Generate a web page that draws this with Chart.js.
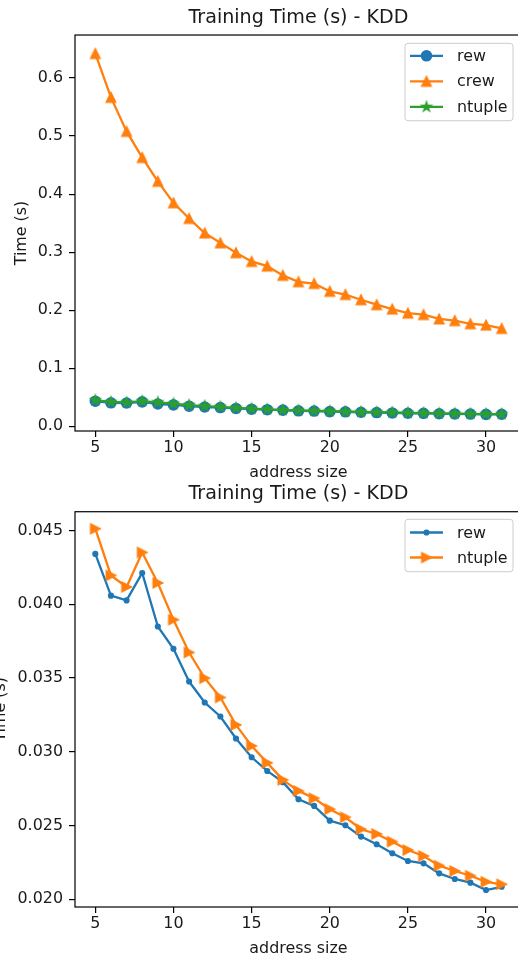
<!DOCTYPE html>
<html><head><meta charset="utf-8">
<script src="https://cdn.jsdelivr.net/npm/chart.js@4.4.1/dist/chart.umd.min.js"></script>
<style>
html,body{margin:0;padding:0;background:#fff;overflow:hidden;width:518px;height:961px;position:relative}
canvas{position:absolute}
#c1{left:0;top:0}
#c2{left:-21px;top:478px}
</style></head><body>
<canvas id="c1" width="530" height="486"></canvas>
<canvas id="c2" width="551" height="484"></canvas>
<script>
// ---- data ----
const addressSize = [5,6,7,8,9,10,11,12,13,14,15,16,17,18,19,20,21,22,23,24,25,26,27,28,29,30,31];
const rewTime = [0.04341,0.04058,0.04026,0.04212,0.03849,0.03698,0.03476,0.03334,0.03239,0.03090,0.02963,0.0287,0.02794,0.02678,0.02633,0.02533,0.02502,0.02425,0.02373,0.02312,0.0226,0.02244,0.02176,0.02138,0.02113,0.02063,0.02085];
const crewTime = [0.642,0.5665,0.508,0.463,0.422,0.385,0.358,0.333,0.316,0.299,0.284,0.276,0.260,0.249,0.246,0.2325,0.227,0.218,0.2095,0.202,0.195,0.1925,0.185,0.182,0.1767,0.1744,0.1686];
const ntupleTime = [0.04512,0.04195,0.04117,0.04351,0.04144,0.03895,0.03673,0.03499,0.03368,0.03182,0.0304,0.02925,0.0281,0.02735,0.02685,0.02611,0.02556,0.02475,0.02443,0.02391,0.02334,0.02294,0.02228,0.02192,0.0216,0.02119,0.02102];
const xTicks = [5,10,15,20,25,30];
const yTicksTop = [0.0,0.1,0.2,0.3,0.4,0.5,0.6];
const yTicksBottom = [0.020,0.025,0.030,0.035,0.040,0.045];
const chartTitle = 'Training Time (s) - KDD';
const xLabel = 'address size';
const yLabel = 'Time (s)';

const BLUE = '#1f77b4', ORANGE = '#ff7f0e', GREEN = '#2ca02c';
const FONT = 'DejaVu Sans';
const TXT = '#1a1a1a';

function pts(ys){ return addressSize.map((x,i)=>({x:x, y:ys[i]})); }

function markerCanvas(kind, color){
  const h = 4.65, S = 16;
  const c = document.createElement('canvas'); c.width = S; c.height = S;
  const g = c.getContext('2d'); g.translate(S/2, S/2);
  g.beginPath();
  if (kind === '^'){ g.moveTo(0,-h); g.lineTo(h,h); g.lineTo(-h,h); }
  else if (kind === '>'){ g.moveTo(h,0); g.lineTo(-h,-h); g.lineTo(-h,h); }
  else if (kind === '*'){
    for (let i=0;i<10;i++){ const r = (i%2) ? h*0.381966 : h; const a = -Math.PI/2 + i*Math.PI/5; g.lineTo(r*Math.cos(a), r*Math.sin(a)); }
  }
  g.closePath();
  g.fillStyle = color; g.strokeStyle = color; g.lineWidth = 1.55; g.lineJoin = 'miter';
  g.fill(); g.stroke();
  return c;
}

const frameLegend = {
  id: 'frameLegend',
  afterDatasetsDraw(chart, args, o){
    const {ctx, chartArea: a} = chart;
    ctx.save();
    ctx.strokeStyle = '#000'; ctx.lineWidth = 1.2;
    ctx.strokeRect(a.left, a.top, a.right - a.left, a.bottom - a.top);
    // legend
    const bx = a.right - o.right - o.w, by = a.top + o.top;
    ctx.beginPath();
    const r = 3;
    ctx.moveTo(bx + r, by); ctx.lineTo(bx + o.w - r, by); ctx.arcTo(bx + o.w, by, bx + o.w, by + r, r);
    ctx.lineTo(bx + o.w, by + o.h - r); ctx.arcTo(bx + o.w, by + o.h, bx + o.w - r, by + o.h, r);
    ctx.lineTo(bx + r, by + o.h); ctx.arcTo(bx, by + o.h, bx, by + o.h - r, r);
    ctx.lineTo(bx, by + r); ctx.arcTo(bx, by, bx + r, by, r);
    ctx.closePath();
    ctx.fillStyle = 'rgba(255,255,255,0.8)'; ctx.fill();
    ctx.strokeStyle = '#cccccc'; ctx.lineWidth = 1; ctx.stroke();
    o.items.forEach((di, k) => {
      const ds = chart.data.datasets[di];
      const y = by + o.rowStart + k * o.rowStep;
      ctx.strokeStyle = ds.borderColor; ctx.lineWidth = ds.borderWidth;
      ctx.beginPath(); ctx.moveTo(bx + 5, y); ctx.lineTo(bx + 38, y); ctx.stroke();
      const mx = bx + 21.5;
      if (ds.pointStyle === 'circle'){
        ctx.beginPath(); ctx.arc(mx, y, ds.pointRadius, 0, Math.PI*2);
        ctx.fillStyle = ds.pointBackgroundColor; ctx.fill();
        ctx.lineWidth = ds.pointBorderWidth; ctx.strokeStyle = ds.pointBorderColor; ctx.stroke();
      } else {
        const im = ds.pointStyle; ctx.drawImage(im, mx - im.width/2, y - im.height/2);
      }
      ctx.fillStyle = TXT; ctx.font = '15.9px "' + FONT + '"';
      ctx.textBaseline = 'middle'; ctx.textAlign = 'left';
      ctx.fillText(ds.label, bx + 52, y + 1);
    });
    ctx.restore();
  }
};

function makeChart(id, datasets, yMin, yMax, yTicks, dec, yWidth, titlePad, legendOpts){
  return new Chart(document.getElementById(id), {
    type: 'line',
    data: { datasets: datasets },
    plugins: [frameLegend],
    options: {
      responsive: false, animation: false, devicePixelRatio: 1,
      layout: { padding: { left: 8, right: 8, top: 0, bottom: 0 } },
      plugins: {
        legend: { display: false }, tooltip: { enabled: false },
        title: { display: true, text: chartTitle, fullSize: false, color: TXT,
                 font: { family: FONT, size: 19.1, weight: 'normal' }, padding: titlePad },
        frameLegend: legendOpts
      },
      scales: {
        x: {
          type: 'linear', min: 3.7, max: 32.3,
          afterBuildTicks: s => { s.ticks = xTicks.map(v => ({ value: v })); },
          afterFit: s => { s.height = 55; },
          ticks: { color: TXT, font: { family: FONT, size: 15.9 }, padding: 1.5, maxRotation: 0, autoSkip: false,
                   callback: v => String(v) },
          grid: { display: true, drawOnChartArea: false, drawTicks: true, tickLength: 6, color: '#000', lineWidth: 1.2 },
          border: { display: false },
          title: { display: true, text: xLabel, color: TXT, font: { family: FONT, size: 15.9 }, padding: { top: 4, bottom: 4 } }
        },
        y: {
          type: 'linear', min: yMin, max: yMax,
          afterBuildTicks: s => { s.ticks = yTicks.map(v => ({ value: v })); },
          afterFit: s => { s.width = yWidth; },
          ticks: { color: TXT, font: { family: FONT, size: 15.9 }, padding: 6, autoSkip: false,
                   callback: v => Number(v).toFixed(dec) },
          grid: { display: true, drawOnChartArea: false, drawTicks: true, tickLength: 6, color: '#000', lineWidth: 1.2 },
          border: { display: false },
          title: { display: true, text: yLabel, color: TXT, font: { family: FONT, size: 15.9 }, padding: { top: 4, bottom: 4 } }
        }
      }
    }
  });
}

const lineBase = { borderWidth: 2.3, tension: 0, fill: false, pointHoverRadius: 0 };

makeChart('c1', [
  Object.assign({ label: 'rew', data: pts(rewTime), borderColor: BLUE, backgroundColor: BLUE,
    pointStyle: 'circle', pointRadius: 5, pointBorderWidth: 1.55, pointBackgroundColor: BLUE, pointBorderColor: BLUE, order: 2 }, lineBase),
  Object.assign({ label: 'crew', data: pts(crewTime), borderColor: ORANGE, backgroundColor: ORANGE,
    pointStyle: markerCanvas('^', ORANGE), pointRadius: 5, order: 1 }, lineBase),
  Object.assign({ label: 'ntuple', data: pts(ntupleTime), borderColor: GREEN, backgroundColor: GREEN,
    pointStyle: markerCanvas('*', GREEN), pointRadius: 5, order: 0 }, lineBase)
], -0.008, 0.674, yTicksTop, 1, 67, { top: 6.9, bottom: 5.2 },
{ items: [0,1,2], w: 108, h: 77.4, right: 9, top: 8.3, rowStart: 12.5, rowStep: 25.5 });

makeChart('c2', [
  Object.assign({ label: 'rew', data: pts(rewTime), borderColor: BLUE, backgroundColor: BLUE,
    pointStyle: 'circle', pointRadius: 2.3, pointBorderWidth: 1.55, pointBackgroundColor: BLUE, pointBorderColor: BLUE, order: 1 }, lineBase),
  Object.assign({ label: 'ntuple', data: pts(ntupleTime), borderColor: ORANGE, backgroundColor: ORANGE,
    pointStyle: markerCanvas('>', ORANGE), pointRadius: 5, order: 0 }, lineBase)
], 0.01948, 0.04627, yTicksBottom, 3, 88, { top: 4.9, bottom: 5.9 },
{ items: [0,1], w: 108, h: 52.4, right: 9, top: 7.6, rowStart: 13.2, rowStep: 25 });
</script>
</body></html>
